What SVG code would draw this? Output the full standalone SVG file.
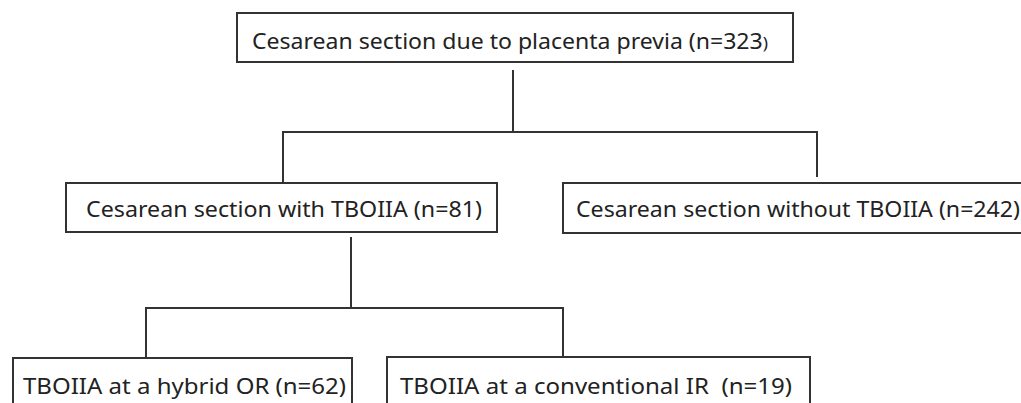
<svg xmlns="http://www.w3.org/2000/svg" width="1021" height="403" viewBox="0 0 1021 403">
<style>
.box{fill:#fff;stroke:#333;stroke-width:2}
.lbl{font-family:"Noto Sans","Liberation Sans",sans-serif;font-size:21px;fill:#222}
.con{fill:none;stroke:#333;stroke-width:2}
</style>
<rect width="1021" height="403" fill="#fff"/>
<g id="connectors">
<path class="con" d="M513 70V132M283 182V132H817V177"/>
<path class="con" d="M351 237V308M146 357V308H563V357"/>
</g>
<g id="n-root">
<rect class="box" x="237" y="13" width="556" height="49"/>
<text class="lbl" x="252" y="49" textLength="516" lengthAdjust="spacingAndGlyphs">Cesarean section due to placenta previa (n=323<tspan font-size="16">)</tspan></text>
</g>
<g id="n-with">
<rect class="box" x="66" y="183" width="431" height="49"/>
<text class="lbl" x="86" y="217" textLength="396" lengthAdjust="spacingAndGlyphs">Cesarean section with TBOIIA (n=81)</text>
</g>
<g id="n-without">
<rect class="box" x="563" y="183" width="470" height="50"/>
<text class="lbl" x="576" y="217" textLength="444" lengthAdjust="spacingAndGlyphs">Cesarean section without TBOIIA (n=242)</text>
</g>
<g id="n-hybrid">
<rect class="box" x="13" y="358" width="339" height="60"/>
<text class="lbl" x="23" y="394" textLength="323" lengthAdjust="spacingAndGlyphs">TBOIIA at a hybrid OR (n=62)</text>
</g>
<g id="n-conv">
<rect class="box" x="387" y="357" width="423" height="60"/>
<text class="lbl" x="400" y="394" xml:space="preserve" textLength="392" lengthAdjust="spacingAndGlyphs">TBOIIA at a conventional IR  (n=19)</text>
</g>
</svg>
